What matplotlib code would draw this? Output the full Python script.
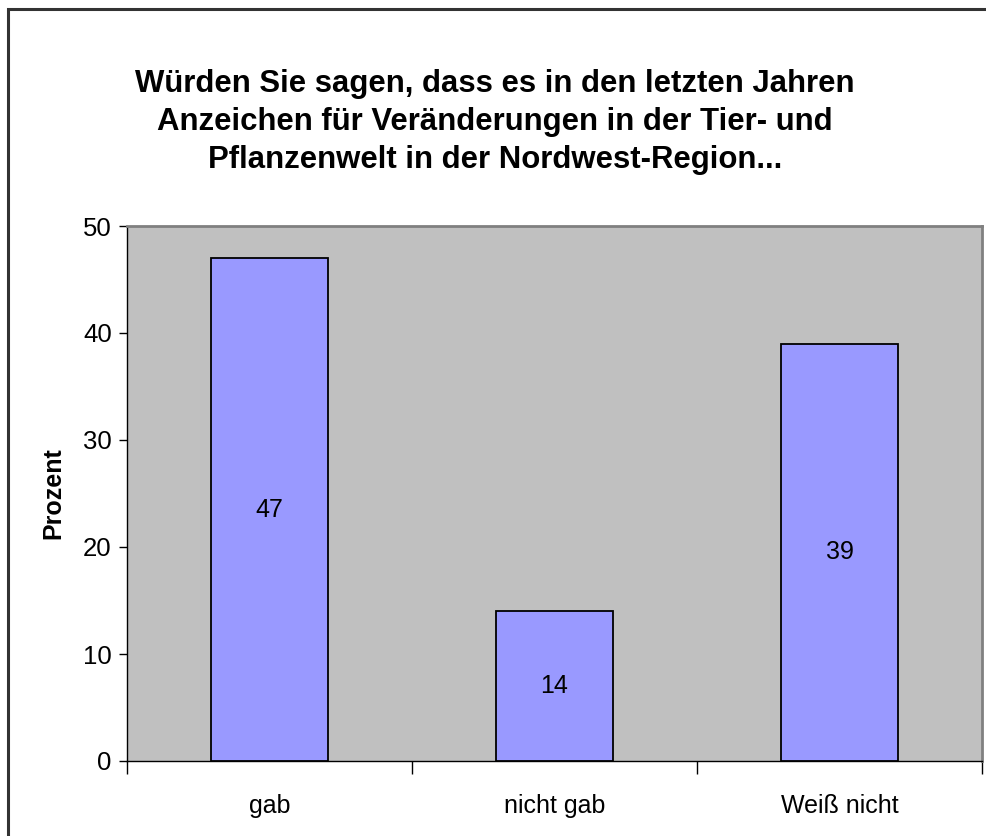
import matplotlib
matplotlib.use('Agg')
import matplotlib.pyplot as plt
import matplotlib.patches as mpatches

# ── Data ──────────────────────────────────────────────────────────────────
categories = ['gab', 'nicht gab', 'Weiß nicht']
values     = [47, 14, 39]
yticks     = [0, 10, 20, 30, 40, 50]

TITLE = ('Würden Sie sagen, dass es in den letzten Jahren\n'
         'Anzeichen für Veränderungen in der Tier- und\n'
         'Pflanzenwelt in der Nordwest-Region...')

plt.rcParams['font.family'] = ['Liberation Sans', 'DejaVu Sans']

W, H = 987, 836
fig = plt.figure(figsize=(W / 100, H / 100), dpi=100)
fig.patch.set_facecolor('white')

# outer chart frame (only left/top visible in the reference)
fig.add_artist(mpatches.Rectangle((8 / W, -0.01), 1.0, 1 - 9 / H + 0.01,
                                  transform=fig.transFigure, fill=False,
                                  edgecolor='#333333', lw=2.2))

# plot area in pixels: x 127..982, y 226..761
x0, x1, y0, y1 = 127, 982, 226, 761
ax = fig.add_axes([x0 / W, 1 - y1 / H, (x1 - x0) / W, (y1 - y0) / H])
ax.set_facecolor('#C0C0C0')

xs = list(range(len(categories)))
bars = ax.bar(xs, values, width=0.41, color='#9999FF', edgecolor='black',
              linewidth=1.3, zorder=3)
for b, v in zip(bars, values):
    ax.text(b.get_x() + b.get_width() / 2, v / 2, f'{v}', ha='center',
            va='center', fontsize=18, color='black', zorder=4)

ax.set_xlim(-0.5, len(categories) - 0.5)
ax.set_ylim(0, 50)
ax.set_yticks(yticks)
ax.tick_params(axis='y', direction='out', length=6, width=1, labelsize=18.5,
               pad=5)
ax.set_xticks(xs)
ax.set_xticklabels(categories)
ax.tick_params(axis='x', length=0, labelsize=18, pad=24)
# category boundary ticks
ax.set_xticks([-0.5 + i for i in range(len(categories) + 1)], minor=True)
ax.tick_params(axis='x', which='minor', direction='out', length=9, width=1)

for side in ['left', 'bottom']:
    ax.spines[side].set_color('black')
    ax.spines[side].set_linewidth(1.0)
for side in ['top', 'right']:
    ax.spines[side].set_color('#808080')
    ax.spines[side].set_linewidth(2.0)

ax.set_ylabel('Prozent', fontsize=18, fontweight='bold', labelpad=13)

fig.text(495 / W, 1 - 122 / H, TITLE, ha='center', va='center',
         fontsize=22.4, fontweight='bold', linespacing=1.36)

fig.savefig('out.png', dpi=100, facecolor='white')
